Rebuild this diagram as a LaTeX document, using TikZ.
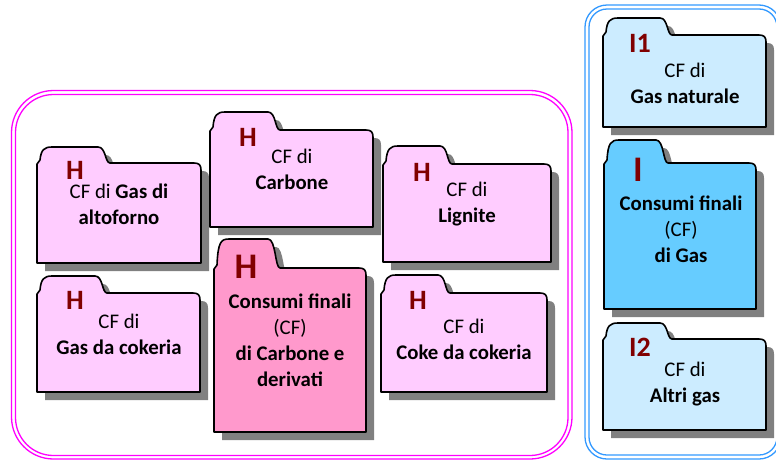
\documentclass[tikz,border=0pt]{standalone}
\usepackage{fontspec}
\setmainfont{Carlito}
\definecolor{pinkL}{HTML}{FFCCFF}
\definecolor{pinkD}{HTML}{FF99CC}
\definecolor{blueL}{HTML}{CCECFF}
\definecolor{blueD}{HTML}{66CCFF}
\definecolor{lblred}{HTML}{800000}
\definecolor{magline}{HTML}{FF00FF}
\definecolor{blueline}{HTML}{3399FF}
\definecolor{shadowgray}{HTML}{808080}
% folder path: #1 L, #2 T(tab top), #3 S(shoulder), #4 R, #5 B, #6 TR(tab right)
\newcommand\fpath[6]{(#1,#5) -- (#1,{#3+1}) -- ({#1+3},{#3-3}) .. controls ({#1+4},{#2+3}) and ({#1+7},#2) .. ({#1+15},#2) -- ({#6-12},#2) .. controls ({#6-4},#2) and ({#6-5},#3) .. (#6,#3) -- ({#4-7},#3) .. controls ({#4-2},#3) and (#4,{#3+2}) .. (#4,{#3+7}) -- (#4,#5) -- cycle}
\newcommand\folder[7]{%
  \fill[shadowgray, shift={(8,8)}] \fpath{#1}{#2}{#3}{#4}{#5}{#6};
  \draw[foldline, fill=#7] \fpath{#1}{#2}{#3}{#4}{#5}{#6};
}
\tikzset{
  foldline/.style={line width=1.6pt, line join=round},
  body/.style={align=center, inner sep=0pt, text=black, font=\fontsize{20.8}{26}\selectfont},
  lbl/.style={inner sep=0pt, text=lblred, font=\bfseries\fontsize{28}{30}\selectfont},
  biglbl/.style={inner sep=0pt, text=lblred, font=\bfseries\fontsize{36}{38}\selectfont},
  cont/.style={line width=1.3pt}
}
\begin{document}
\begin{tikzpicture}[x=1pt, y=-1pt]
\useasboundingbox (0,0) rectangle (776,461);
\clip (0,0) rectangle (776,461);
% containers
\draw[cont, magline, rounded corners=42pt] (11.5,90.5) rectangle (572,459);
\draw[cont, magline, rounded corners=38pt] (15.5,94.5) rectangle (568,455.5);
\draw[cont, blueline, rounded corners=22pt] (585,5) rectangle (781,459);
\draw[cont, blueline, rounded corners=18pt] (589,9) rectangle (777,455);
% folders
\folder{37}{147}{163}{201}{263}{110}{pinkL}
\folder{210}{112}{130}{373}{227}{280}{pinkL}
\folder{383}{146}{164}{551}{262}{452}{pinkL}
\folder{37}{276}{293}{200}{392}{107}{pinkL}
\folder{214}{239}{268}{366}{432}{280}{pinkD}
\folder{381}{275}{293}{547}{392}{450}{pinkL}
\folder{603}{18}{35}{766}{127}{672}{blueL}
\folder{604}{140}{163}{756}{309}{668}{blueD}
\folder{603}{323}{339}{766}{430}{672}{blueL}
% labels
\node[lbl] (h1) at (75,170) {H};
\node[lbl] (h2) at (248,137) {H};
\node[lbl] (h3) at (422,172) {H};
\node[lbl] (h4) at (75,300) {H};
\node[biglbl] (h5) at (246,267) {H};
\node[lbl] (h6) at (418,300) {H};
\node[lbl] (i1) at (640,43) {I1};
\node[biglbl] (i0) at (638,170) {I};
\node[lbl] (i2) at (640,347) {I2};
% texts
\node[body] (t1) at (119,204.5) {CF di \textbf{Gas di}\\\textbf{altoforno}};
\node[body] (t2) at (292,169) {CF di\\\textbf{Carbone}};
\node[body] (t3) at (467,204.5) {CF di\\\textbf{Lignite}};
\node[body] (t4) at (119,334.5) {CF di\\\textbf{Gas da cokeria}};
\node[body] (t5) at (290,340) {\textbf{Consumi finali}\\(CF)\\\textbf{di Carbone e}\\\textbf{derivati}};
\node[body] (t6) at (464,339) {CF di\\\textbf{Coke da cokeria}};
\node[body] (t7) at (685,83) {CF di\\\textbf{Gas naturale}};
\node[body] (t8) at (681,229) {\textbf{Consumi finali}\\(CF)\\\textbf{di Gas}};
\node[body] (t9) at (685,384.5) {CF di\\\textbf{Altri gas}};
\end{tikzpicture}
\end{document}
